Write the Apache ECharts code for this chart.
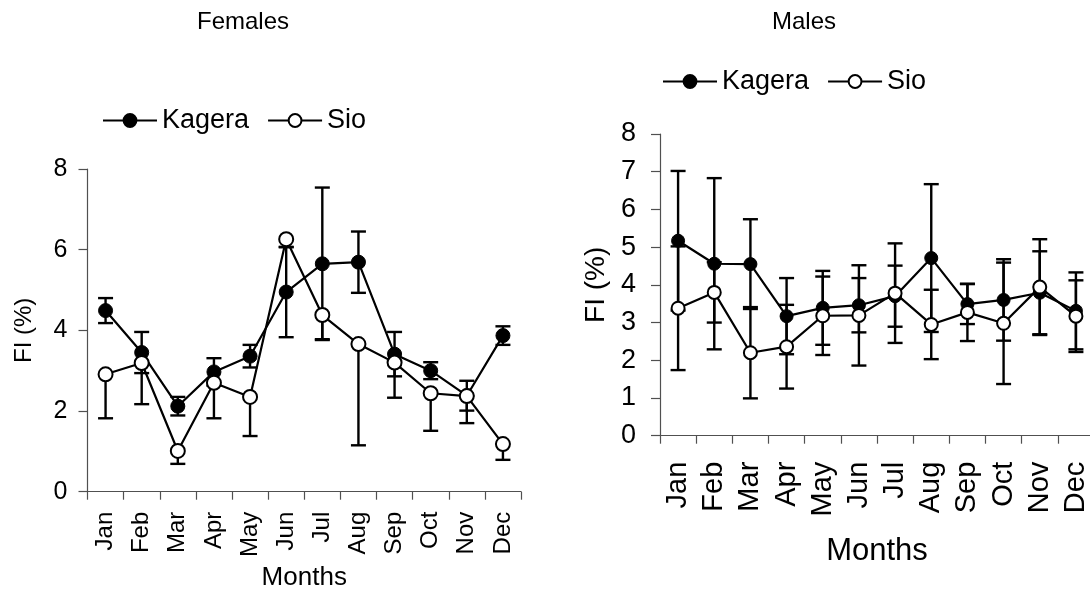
<!DOCTYPE html>
<html>
<head>
<meta charset="utf-8">
<title>FI (%) by month – Kagera and Sio</title>
<script src="https://cdn.jsdelivr.net/npm/echarts@6/dist/echarts.min.js"></script>
<style>
  html, body { margin: 0; padding: 0; background: #fff; }
  #chart { width: 1090px; height: 594px; }
</style>
</head>
<body>
<div id="chart"></div>
<script>
// Months on the category axis
const months = ['Jan', 'Feb', 'Mar', 'Apr', 'May', 'Jun', 'Jul', 'Aug', 'Sep', 'Oct', 'Nov', 'Dec'];

// Females: monthly mean FI (%) and its error
const femaleKagera    = [4.49, 3.45, 2.12, 2.97, 3.36, 4.95, 5.65, 5.69, 3.41, 3.00, 2.38, 3.87];
const femaleKageraErr = [0.31, 0.51, 0.23, 0.34, 0.28, 1.12, 1.89, 0.76, 0.55, 0.21, 0.37, 0.23];
const femaleSio       = [2.91, 3.19, 1.01, 2.70, 2.35, 6.26, 4.38, 3.66, 3.20, 2.44, 2.37, 1.18];
const femaleSioErr    = [1.09, 1.02, 0.32, 0.88, 0.97, 0.20, 0.60, 2.51, 0.87, 0.93, 0.67, 0.39];

// Males: monthly mean FI (%) and its error
const maleKagera    = [5.17, 4.56, 4.55, 3.17, 3.39, 3.46, 3.70, 4.71, 3.49, 3.60, 3.79, 3.31];
const maleKageraErr = [1.85, 2.27, 1.19, 1.01, 0.98, 0.72, 0.81, 1.96, 0.53, 1.08, 1.10, 1.02];
const maleSio       = [3.38, 3.80, 2.20, 2.36, 3.18, 3.19, 3.78, 2.95, 3.27, 2.98, 3.94, 3.17];
const maleSioErr    = [1.64, 0.80, 1.21, 1.11, 1.04, 1.33, 1.32, 0.92, 0.76, 1.61, 1.27, 0.95];

// Y-axis ranges
const femaleY = { min: 0, max: 8, interval: 2 };
const maleY   = { min: 0, max: 8, interval: 1 };

const FONT = "'Liberation Sans', Arial, Helvetica, sans-serif";
const INK = '#000';
const AXIS = '#505050';

// [index, mean, low, high] rows for the error bar renderer
function errorRows(values, errs, withUpper, withLower) {
  return values.map((v, i) => [
    i, v,
    withLower ? +(v - errs[i]).toFixed(3) : v,
    withUpper ? +(v + errs[i]).toFixed(3) : v
  ]);
}

function renderErrorBar(params, api) {
  const idx = api.value(0);
  const v = api.value(1);
  const lo = api.value(2);
  const hi = api.value(3);
  const pLo = api.coord([idx, lo]);
  const pHi = api.coord([idx, hi]);
  const x = pLo[0];
  const hw = 7.5;
  const style = { stroke: INK, lineWidth: 2.4, fill: null };
  const children = [];
  if (hi !== lo) {
    children.push({ type: 'line', shape: { x1: x, y1: pHi[1], x2: x, y2: pLo[1] }, style });
  }
  if (hi > v) {
    children.push({ type: 'line', shape: { x1: x - hw, y1: pHi[1], x2: x + hw, y2: pHi[1] }, style });
  }
  if (lo < v) {
    children.push({ type: 'line', shape: { x1: x - hw, y1: pLo[1], x2: x + hw, y2: pLo[1] }, style });
  }
  return { type: 'group', children };
}

function errorSeries(name, rows, gi) {
  return {
    name: name + ' error',
    type: 'custom',
    xAxisIndex: gi,
    yAxisIndex: gi,
    renderItem: renderErrorBar,
    data: rows,
    encode: { x: 0, y: [1, 2, 3] },
    silent: true,
    z: 1
  };
}

function lineSeries(name, values, gi, filled, size) {
  return {
    name,
    type: 'line',
    xAxisIndex: gi,
    yAxisIndex: gi,
    data: values,
    symbol: 'circle',
    symbolSize: size,
    showSymbol: true,
    lineStyle: { color: INK, width: 2.2 },
    itemStyle: filled
      ? { color: INK, borderColor: INK, borderWidth: 1 }
      : { color: '#fff', borderColor: INK, borderWidth: 2 },
    emphasis: { disabled: true },
    z: 3
  };
}

function xAxis(gi, labelSize, labelMargin, nameSize, nameGap) {
  return {
    type: 'category',
    gridIndex: gi,
    data: months,
    boundaryGap: true,
    name: 'Months',
    nameLocation: 'middle',
    nameGap,
    nameTextStyle: { color: INK, fontSize: nameSize, fontFamily: FONT },
    axisLine: { show: true, lineStyle: { color: AXIS, width: 1.2 } },
    axisTick: { show: true, inside: false, length: 8, interval: 0, alignWithLabel: false,
                lineStyle: { color: AXIS, width: 1.2 } },
    axisLabel: { interval: 0, rotate: 90, margin: labelMargin, color: INK,
                 fontSize: labelSize, fontFamily: FONT },
    splitLine: { show: false }
  };
}

function yAxis(gi, range, labelSize, labelMargin, nameSize, nameGap) {
  return {
    type: 'value',
    gridIndex: gi,
    min: range.min,
    max: range.max,
    interval: range.interval,
    name: 'FI (%)',
    nameLocation: 'middle',
    nameRotate: 90,
    nameGap,
    nameTextStyle: { color: INK, fontSize: nameSize, fontFamily: FONT },
    axisLine: { show: true, onZero: false, lineStyle: { color: AXIS, width: 1.2 } },
    axisTick: { show: true, inside: false, length: 9, lineStyle: { color: AXIS, width: 1.2 } },
    axisLabel: { margin: labelMargin, color: INK, fontSize: labelSize, fontFamily: FONT },
    splitLine: { show: false }
  };
}

const legendBase = {
  data: ['Kagera', 'Sio'],
  orient: 'horizontal',
  selectedMode: false,
  padding: 0,
  itemWidth: 54,
  itemHeight: 16,
  itemGap: 18,
  textStyle: { color: INK, fontSize: 27, fontFamily: FONT }
};

const option = {
  animation: false,
  backgroundColor: '#fff',
  textStyle: { fontFamily: FONT },
  title: [
    { text: 'Females', left: 243, top: 10, textAlign: 'center', padding: 0,
      textStyle: { color: INK, fontSize: 24, fontWeight: 'normal', fontFamily: FONT } },
    { text: 'Males', left: 804, top: 10, textAlign: 'center', padding: 0,
      textStyle: { color: INK, fontSize: 24, fontWeight: 'normal', fontFamily: FONT } }
  ],
  legend: [
    Object.assign({}, legendBase, { left: 102, top: 107 }),
    Object.assign({}, legendBase, { left: 662, top: 68 })
  ],
  grid: [
    { left: 87.5, top: 169, width: 433.5, height: 322.7, containLabel: false, outerBoundsMode: 'none' },
    { left: 660, top: 134, width: 434, height: 301.7, containLabel: false, outerBoundsMode: 'none' }
  ],
  xAxis: [
    xAxis(0, 24, 20, 26, 73),
    xAxis(1, 29, 26, 31, 100)
  ],
  yAxis: [
    yAxis(0, femaleY, 25, 20, 24, 51),
    yAxis(1, maleY, 27, 24, 28, 50)
  ],
  series: [
    errorSeries('Kagera', errorRows(femaleKagera, femaleKageraErr, true, true), 0),
    errorSeries('Sio', errorRows(femaleSio, femaleSioErr, false, true), 0),
    lineSeries('Kagera', femaleKagera, 0, true, 14),
    lineSeries('Sio', femaleSio, 0, false, 14),

    errorSeries('Kagera', errorRows(maleKagera, maleKageraErr, true, true), 1),
    errorSeries('Sio', errorRows(maleSio, maleSioErr, true, true), 1),
    lineSeries('Kagera', maleKagera, 1, true, 13),
    lineSeries('Sio', maleSio, 1, false, 13)
  ]
};

const chart = echarts.init(document.getElementById('chart'), null, { renderer: 'canvas' });
chart.setOption(option);
</script>
</body>
</html>
